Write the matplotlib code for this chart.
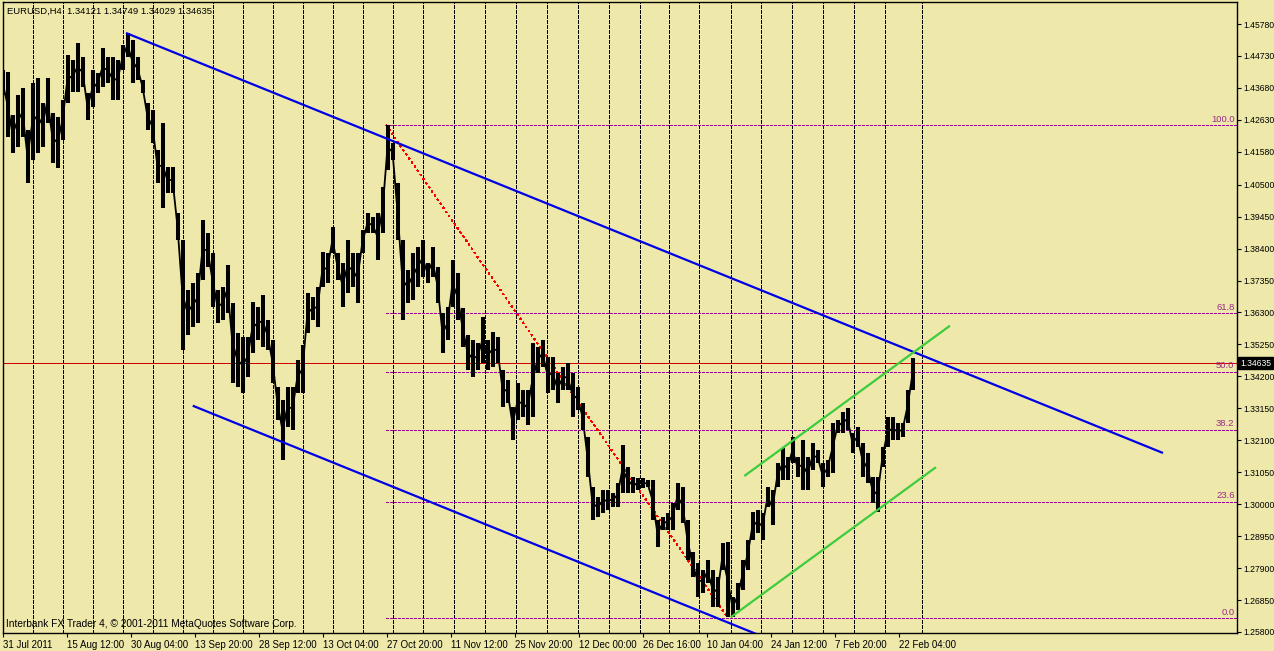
import numpy as np
import matplotlib
matplotlib.use("Agg")
import matplotlib.pyplot as plt
from matplotlib import transforms

# ---------------- data ----------------
# EURUSD H4, high/low per block of 5 bars (20 hours), 31 Jul 2011 .. 24 Feb 2012
block_high = [1.4427, 1.4420, 1.4279, 1.4345, 1.4368, 1.4230, 1.4384, 1.4401, 1.4318, 1.4401,
              1.4286, 1.4272, 1.4328, 1.4476, 1.4460, 1.4516, 1.4470, 1.4351, 1.4427, 1.4417,
              1.4499, 1.4470, 1.4470, 1.4460, 1.4509, 1.4549, 1.4526, 1.4470, 1.4394, 1.4318,
              1.4295, 1.4164, 1.4253, 1.4108, 1.4108, 1.3957, 1.3868, 1.3704, 1.3727, 1.3760,
              1.3934, 1.3891, 1.3826, 1.3704, 1.3714, 1.3786, 1.3661, 1.3563, 1.3549, 1.3549,
              1.3665, 1.3648, 1.3688, 1.3605, 1.3540, 1.3385, 1.3342, 1.3385, 1.3385, 1.3474,
              1.3523, 1.3694, 1.3681, 1.3714, 1.3829, 1.3826, 1.3911, 1.3826, 1.3793, 1.3868,
              1.3826, 1.3826, 1.3901, 1.3957, 1.3944, 1.3957, 1.4042, 1.4246, 1.4187, 1.4056,
              1.3868, 1.3770, 1.3826, 1.3845, 1.3868, 1.3793, 1.3845, 1.3780, 1.3628, 1.3648,
              1.3803, 1.3760, 1.3645, 1.3556, 1.3540, 1.3530, 1.3615, 1.3540, 1.3566, 1.3549,
              1.3441, 1.3408, 1.3319, 1.3398, 1.3375, 1.3375, 1.3530, 1.3517, 1.3540, 1.3484,
              1.3484, 1.3431, 1.3451, 1.3464, 1.3431, 1.3385, 1.3333, 1.3221, 1.3057, 1.3024,
              1.3047, 1.3047, 1.3037, 1.3070, 1.3195, 1.3122, 1.3089, 1.3086, 1.3086, 1.3080,
              1.3080, 1.2948, 1.2958, 1.2971, 1.3004, 1.3070, 1.3057, 1.2948, 1.2843, 1.2807,
              1.2784, 1.2817, 1.2784, 1.2761, 1.2873, 1.2876, 1.2695, 1.2741, 1.2817, 1.2882,
              1.2974, 1.2981, 1.2971, 1.3057, 1.3047, 1.3135, 1.3185, 1.3155, 1.3221, 1.3155,
              1.3211, 1.3155, 1.3201, 1.3178, 1.3135, 1.3145, 1.3267, 1.3277, 1.3303, 1.3316,
              1.3234, 1.3254, 1.3201, 1.3168, 1.3089, 1.3089, 1.3188, 1.3287, 1.3287, 1.3267,
              1.3267, 1.3375, 1.3480]
block_low = [1.4345, 1.4207, 1.4154, 1.4174, 1.4207, 1.4056, 1.4131, 1.4154, 1.4174, 1.4253,
             1.4121, 1.4105, 1.4197, 1.4318, 1.4355, 1.4355, 1.4371, 1.4263, 1.4305, 1.4351,
             1.4371, 1.4384, 1.4328, 1.4328, 1.4427, 1.4470, 1.4384, 1.4394, 1.4351, 1.4230,
             1.4187, 1.4056, 1.3973, 1.4023, 1.4023, 1.3868, 1.3507, 1.3556, 1.3582, 1.3595,
             1.3737, 1.3780, 1.3648, 1.3595, 1.3605, 1.3628, 1.3398, 1.3385, 1.3365, 1.3418,
             1.3497, 1.3540, 1.3517, 1.3507, 1.3398, 1.3277, 1.3145, 1.3254, 1.3244, 1.3365,
             1.3365, 1.3563, 1.3605, 1.3582, 1.3714, 1.3727, 1.3826, 1.3737, 1.3648, 1.3694,
             1.3714, 1.3661, 1.3826, 1.3891, 1.3891, 1.3803, 1.3891, 1.4098, 1.4131, 1.3868,
             1.3605, 1.3661, 1.3671, 1.3714, 1.3747, 1.3727, 1.3747, 1.3661, 1.3497, 1.3540,
             1.3648, 1.3605, 1.3517, 1.3441, 1.3418, 1.3441, 1.3464, 1.3441, 1.3451, 1.3464,
             1.3319, 1.3333, 1.3211, 1.3277, 1.3287, 1.3260, 1.3287, 1.3431, 1.3451, 1.3365,
             1.3375, 1.3333, 1.3375, 1.3375, 1.3287, 1.3310, 1.3244, 1.3089, 1.2948, 1.2958,
             1.2971, 1.2981, 1.2991, 1.2991, 1.3037, 1.3037, 1.3037, 1.3047, 1.3053, 1.3057,
             1.2948, 1.2859, 1.2915, 1.2915, 1.2915, 1.2981, 1.2938, 1.2817, 1.2761, 1.2695,
             1.2708, 1.2741, 1.2662, 1.2662, 1.2784, 1.2629, 1.2629, 1.2652, 1.2718, 1.2784,
             1.2882, 1.2905, 1.2882, 1.2991, 1.2932, 1.3057, 1.3080, 1.3080, 1.3135, 1.3089,
             1.3047, 1.3047, 1.3112, 1.3135, 1.3057, 1.3089, 1.3103, 1.3234, 1.3234, 1.3244,
             1.3168, 1.3188, 1.3089, 1.3070, 1.3004, 1.2974, 1.3122, 1.3188, 1.3211, 1.3211,
             1.3221, 1.3267, 1.3375]
bars_per_block = 5

title_text = "EURUSD,H4  1.34121 1.34749 1.34029 1.34635"
last_price = 1.34635

# price scale labels
price_ticks = ["1.45780", "1.44730", "1.43680", "1.42630", "1.41580", "1.40500", "1.39450",
               "1.38400", "1.37350", "1.36300", "1.35250", "1.34200", "1.33150", "1.32100",
               "1.31050", "1.30000", "1.28950", "1.27900", "1.26850", "1.25800"]

# time scale (bar index, label)
time_tick_bars = [3, 67, 131, 195, 259, 323, 387, 451, 515, 579, 643, 707, 771, 835, 899]
time_tick_labels = ["31 Jul 2011", "15 Aug 12:00", "30 Aug 04:00", "13 Sep 20:00", "28 Sep 12:00",
                    "13 Oct 04:00", "27 Oct 20:00", "11 Nov 12:00", "25 Nov 20:00", "12 Dec 00:00",
                    "26 Dec 16:00", "10 Jan 04:00", "24 Jan 12:00", "7 Feb 20:00", "22 Feb 04:00"]
# week separators (bar index)
week_bars = [33, 63, 93, 123, 153, 183, 213, 243, 273, 303, 333, 363, 393, 423, 454, 485, 516,
             547, 578, 609, 640, 669, 699, 731, 761, 792, 823, 854, 885, 922]

# trend lines: (bar0, price0, bar1, price1)
upper_channel = (126, 1.45485, 1163, 1.31682)
lower_channel = (192.7, 1.33237, 760, 1.25685)
green_upper = (744.3, 1.30926, 950, 1.35866)
green_lower = (730.7, 1.26283, 936, 1.31216)

# Fibonacci retracement
fib_high_bar, fib_high = 386, 1.4246
fib_low_bar, fib_low = 728, 1.2626
fib_ratios = [1.0, 0.618, 0.5, 0.382, 0.236, 0.0]
fib_labels = ["100.0", "61.8", "50.0", "38.2", "23.6", "0.0"]

# ---------------- drawing ----------------
plt.rcParams["font.family"] = ["Liberation Sans", "DejaVu Sans"]
BG = "#EEE8AA"
W, H = 1274, 651
fig = plt.figure(figsize=(W / 100, H / 100), dpi=100, facecolor=BG)
left_px, right_px, top_px, bot_px = 2.5, 1237, 2, 633
ax = fig.add_axes([left_px / W, (H - bot_px) / H, (right_px - left_px) / W, (bot_px - top_px) / H])
ax.set_facecolor(BG)

ax.set_xlim(left_px, right_px)
ax.set_ylim(1.25767, 1.46503)

# week grid
for b in week_bars:
    ax.axvline(b, color="black", lw=0.7, linestyle=(0, (4, 2)), zorder=1, antialiased=False)

# fibonacci levels
rng = fib_high - fib_low
for r, lab in zip(fib_ratios, fib_labels):
    lvl = fib_low + r * rng
    ax.plot([fib_high_bar, right_px], [lvl, lvl], color="#a000a0", lw=0.7,
            linestyle=(0, (3, 2)), zorder=2, antialiased=False)
    ax.text(1234.5, lvl + 0.0004, lab, ha="right", va="bottom", fontsize=6.8,
            color="#9a2a8a", zorder=6)
ax.plot([fib_high_bar, fib_low_bar], [fib_high, fib_low], color="red", lw=0.9,
        linestyle=(0, (1.5, 3)), zorder=3, antialiased=False)

# current price line
ax.axhline(last_price, color="#d00000", lw=0.7, zorder=2, antialiased=False)

# price bars
n = len(block_high)
xb = np.arange(n) * bars_per_block + 2.5
hi = np.array(block_high)
lo = np.array(block_low)
ax.vlines(xb, lo, hi, color="black", lw=2.9, zorder=4)
ax.plot(xb, (hi + lo) / 2, color="black", lw=1.3, zorder=4)

# trend lines
for (x0, p0, x1, p1), col in [(upper_channel, "#0000e6"), (lower_channel, "#0000e6"),
                              (green_upper, "#3ccc3c"), (green_lower, "#3ccc3c")]:
    ax.plot([x0, x1], [p0, p1], color=col, lw=1.6, zorder=5, solid_capstyle="butt")

# axes styling
for s in ax.spines.values():
    s.set_color("black")
    s.set_linewidth(1.0)

ax.yaxis.tick_right()
ax.set_yticks([float(t) for t in price_ticks])
ax.set_yticklabels(price_ticks)
ax.tick_params(axis="y", direction="out", length=3, width=0.8, pad=1.5, labelsize=6.2,
               colors="black")
ax.set_xticks(time_tick_bars)
ax.set_xticklabels(time_tick_labels, ha="left")
ax.tick_params(axis="x", direction="out", length=3, width=0.8, pad=2, labelsize=7,
               colors="black")

# current price tag on the scale
tr = transforms.blended_transform_factory(fig.transFigure, ax.transData)
ax.text(1240 / W, last_price, "1.34635", transform=tr, ha="left", va="center",
        fontsize=6.2, color="white", zorder=10,
        bbox=dict(boxstyle="square,pad=0.2", fc="black", ec="black"))

# texts
fig.text(7 / W, 1 - 11 / H, title_text, ha="left", va="center", fontsize=6.8, color="black")
fig.text(6 / W, 1 - 624 / H, "Interbank FX Trader 4, \u00a9 2001-2011 MetaQuotes Software Corp.",
         ha="left", va="center", fontsize=7.3, color="black")

fig.savefig("out.png", dpi=100, facecolor=BG)
